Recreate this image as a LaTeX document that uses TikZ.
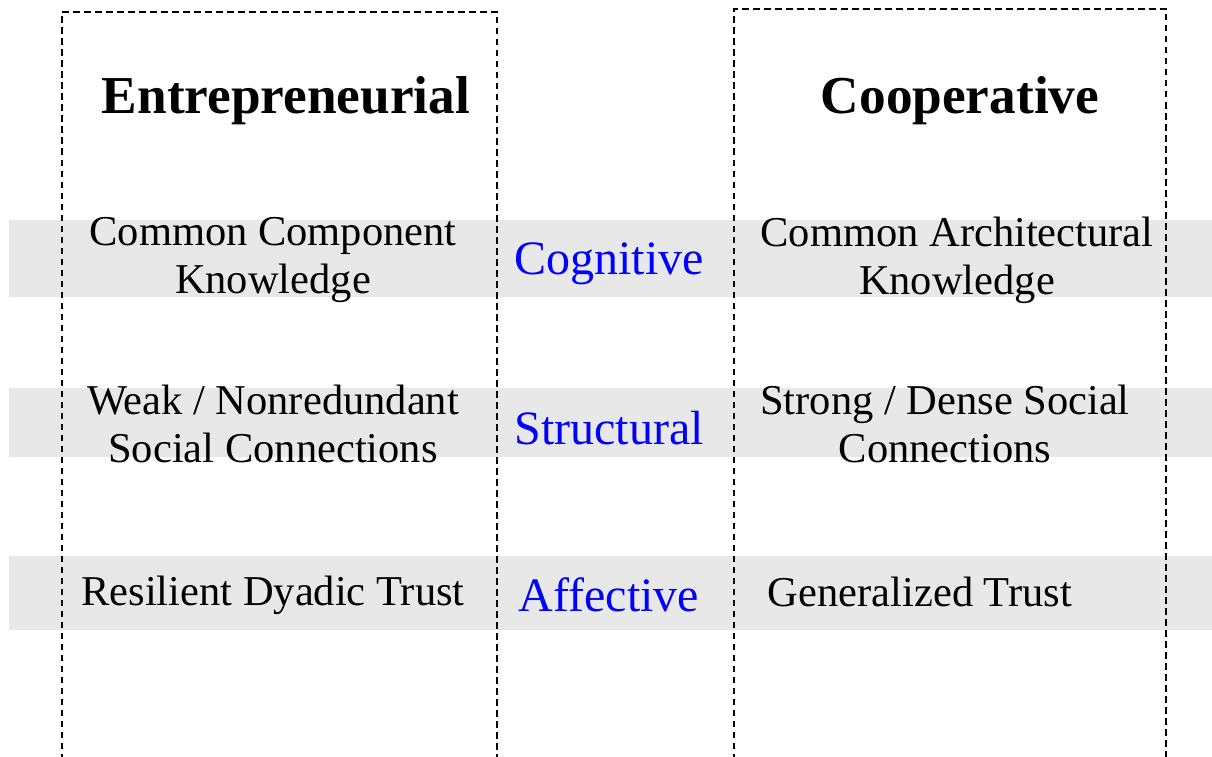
\documentclass[tikz,border=0pt]{standalone}
\usepackage{fontspec}
\setmainfont{Liberation Serif}
\tikzset{
  band/.style={fill=bandgray, draw=none},
  frame/.style={draw=black, line width=1.8pt, dash pattern=on 6.5pt off 4.5pt},
  title/.style={font=\fontsize{53.3}{60}\selectfont\bfseries, anchor=center},
  item/.style={font=\fontsize{42.5}{48}\selectfont, align=center, anchor=center},
  dim/.style={font=\fontsize{48}{54}\selectfont, text=blue, anchor=center}
}
\definecolor{bandgray}{HTML}{E8E8E8}
\begin{document}
\begin{tikzpicture}[x=1pt,y=-1pt]
\useasboundingbox (0,0) rectangle (1212,757);
% bands
\fill[band] (9,220) rectangle (1212,297);
\fill[band] (9,388) rectangle (1212,457);
\fill[band] (9,556) rectangle (1212,630);
% frames
\draw[frame] (62,760) -- (62,12) -- (497,12) -- (497,760);
\draw[frame] (734,760) -- (734,9) -- (1166,9) -- (1166,760);
% titles
\node[title] (ent) at (286,101) {Entrepreneurial};
\node[title] (coop) at (960,101) {Cooperative};
% items
\node[item] (ccomp) at (273,260) {Common Component\\Knowledge};
\node[dim] (cog) at (609,264) {Cognitive};
\node[item] (carch) at (957,260) {Common Architectural\\Knowledge};
\node[item] (weak) at (273,424) {Weak / Nonredundant\\Social Connections};
\node[dim] (str) at (609,428) {Structural};
\node[item] (strong) at (945,424) {Strong / Dense Social\\Connections};
\node[item] (res) at (273,595) {Resilient Dyadic Trust};
\node[dim] (aff) at (609,595) {Affective};
\node[item] (gen) at (920,592) {Generalized Trust};
\end{tikzpicture}
\end{document}
